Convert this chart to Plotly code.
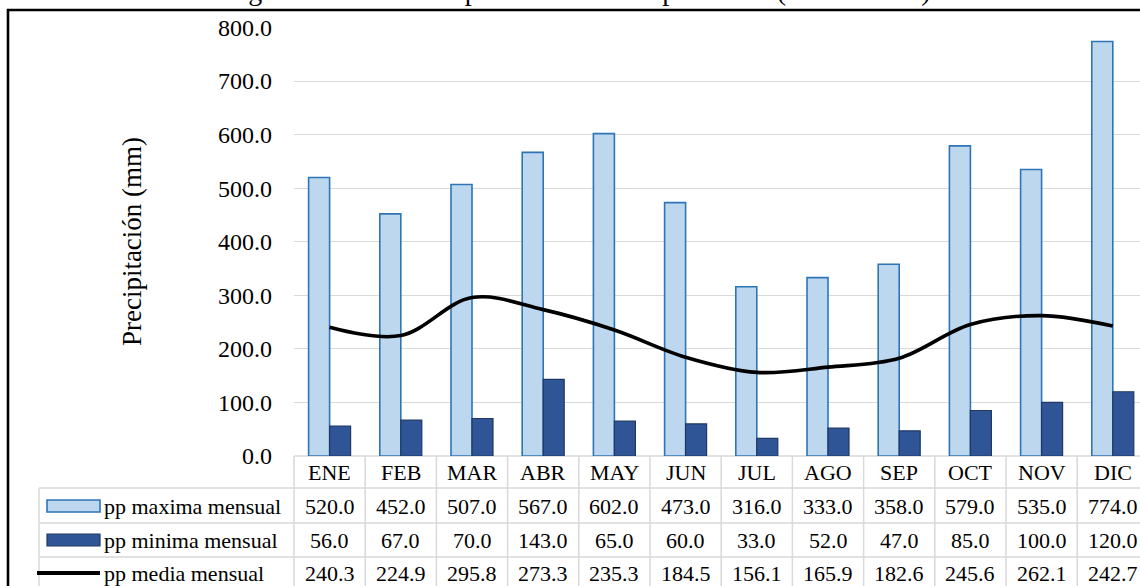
import plotly.graph_objects as go

# Monthly precipitation (mm)
meses = ["ENE", "FEB", "MAR", "ABR", "MAY", "JUN", "JUL", "AGO", "SEP", "OCT", "NOV", "DIC"]
pp_maxima = [520.0, 452.0, 507.0, 567.0, 602.0, 473.0, 316.0, 333.0, 358.0, 579.0, 535.0, 774.0]
pp_minima = [56.0, 67.0, 70.0, 143.0, 65.0, 60.0, 33.0, 52.0, 47.0, 85.0, 100.0, 120.0]
pp_media = [240.3, 224.9, 295.8, 273.3, 235.3, 184.5, 156.1, 165.9, 182.6, 245.6, 262.1, 242.7]

serie_nombres = ["pp maxima mensual", "pp minima mensual", "pp media mensual"]
y_ticks = [0, 100, 200, 300, 400, 500, 600, 700, 800]

FONT = "Liberation Serif"
W, H = 1140, 586
L, T, B = 294, 27, 456           # plot area edges (px)
PW, PH = W - L, B - T
CW = 71.2                        # category width (px)
GRID = "#D9D9D9"

def px(x):   # pixel x -> paper x
    return (x - L) / PW

def py(y):   # pixel y -> paper y
    return (B - y) / PH

fig = go.Figure()
fig.add_trace(go.Bar(
    x=meses, y=pp_maxima, name=serie_nombres[0],
    marker=dict(color="#BDD7EE", line=dict(color="#2E75B6", width=1.6)),
))
fig.add_trace(go.Bar(
    x=meses, y=pp_minima, name=serie_nombres[1],
    marker=dict(color="#2F5597", line=dict(color="#203864", width=1.2)),
))
fig.add_trace(go.Scatter(
    x=meses, y=pp_media, name=serie_nombres[2], mode="lines",
    line=dict(color="black", width=3.6, shape="spline", smoothing=1.0),
))

shapes = []
annotations = []

# outer frame
shapes.append(dict(type="rect", xref="paper", yref="paper",
                   x0=px(8), x1=px(W + 20), y0=py(10), y1=py(H + 30),
                   line=dict(color="black", width=2.6), layer="above"))

# data table grid
rows_y = [B, 488, 523, 557, 595]
table_left = 39
shapes.append(dict(type="line", xref="paper", yref="paper",
                   x0=0, x1=px(W + 10), y0=py(B), y1=py(B),
                   line=dict(color=GRID, width=1.5), layer="below"))
for yy in rows_y[1:4]:
    shapes.append(dict(type="line", xref="paper", yref="paper",
                       x0=px(table_left), x1=px(W + 10), y0=py(yy), y1=py(yy),
                       line=dict(color=GRID, width=1.5)))
for k in range(13):
    xx = L + k * CW
    shapes.append(dict(type="line", xref="paper", yref="paper",
                       x0=px(xx), x1=px(xx), y0=py(B), y1=py(H + 10),
                       line=dict(color=GRID, width=1.5)))
shapes.append(dict(type="line", xref="paper", yref="paper",
                   x0=px(table_left), x1=px(table_left), y0=py(488), y1=py(H + 10),
                   line=dict(color=GRID, width=1.5)))

cell_font = dict(family=FONT, size=22, color="black")

# month header
for m in meses:
    annotations.append(dict(x=m, xref="x", y=py(472), yref="paper", text=m,
                            xanchor="center", yanchor="middle",
                            showarrow=False, font=cell_font))

# table values
row_centers = [506, 540, 573]
for vals, yc in zip([pp_maxima, pp_minima, pp_media], row_centers):
    for m, v in zip(meses, vals):
        annotations.append(dict(x=m, xref="x", y=py(yc), yref="paper", text=f"{v:.1f}",
                                xanchor="center", yanchor="middle",
                                showarrow=False, font=cell_font))

# legend keys inside the table
shapes.append(dict(type="rect", xref="paper", yref="paper",
                   x0=px(47), x1=px(100), y0=py(500), y1=py(512),
                   fillcolor="#BDD7EE", line=dict(color="#2E75B6", width=1.6)))
shapes.append(dict(type="rect", xref="paper", yref="paper",
                   x0=px(47), x1=px(100), y0=py(534), y1=py(546),
                   fillcolor="#2F5597", line=dict(color="#203864", width=1.2)))
shapes.append(dict(type="line", xref="paper", yref="paper",
                   x0=px(37), x1=px(100), y0=py(573), y1=py(573),
                   line=dict(color="black", width=4)))
for name, yc in zip(serie_nombres, row_centers):
    annotations.append(dict(x=px(102), xref="paper", y=py(yc), yref="paper", text=name,
                            xanchor="left", yanchor="middle", showarrow=False,
                            font=cell_font))

# caption above the frame
annotations.append(dict(x=px(578), xref="paper", y=py(8), yref="paper",
                        text="Figura N° 4.12: Precipitación mensual promedio (1964 - 2017)",
                        xanchor="center", yanchor="bottom", showarrow=False,
                        font=dict(family=FONT, size=28, color="black")))

fig.update_layout(
    width=W, height=H,
    margin=dict(l=L, r=0, t=T, b=H - B, pad=0),
    paper_bgcolor="white", plot_bgcolor="white",
    barmode="group", bargap=0.41, bargroupgap=0.0,
    showlegend=False,
    shapes=shapes, annotations=annotations,
    font=dict(family=FONT, color="black"),
)
fig.update_xaxes(range=[-0.5, -0.5 + PW / CW], showticklabels=False, showgrid=False,
                 zeroline=False, showline=False, ticks="")
fig.update_yaxes(range=[0, 801], tickvals=y_ticks, tickformat=".1f",
                 showgrid=True, gridcolor=GRID, gridwidth=1.4, zeroline=False,
                 showline=False, ticks="", ticklabelstandoff=21,
                 tickfont=dict(family=FONT, size=24, color="black"),
                 title=dict(text="Precipitación (mm)", standoff=68,
                            font=dict(family=FONT, size=27, color="black")))

fig.write_html("out.html")
